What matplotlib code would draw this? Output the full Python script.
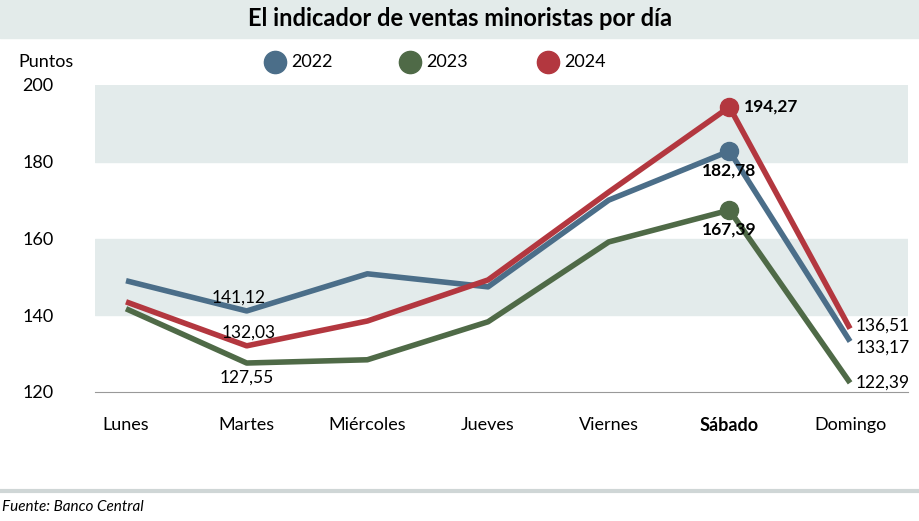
import matplotlib.pyplot as plt

dias = ["Lunes", "Martes", "Miércoles", "Jueves", "Viernes", "Sábado", "Domingo"]
v2022 = [149.0, 141.12, 150.8, 147.4, 170.0, 182.78, 133.17]
v2023 = [141.7, 127.55, 128.4, 138.3, 159.1, 167.39, 122.39]
v2024 = [143.5, 132.03, 138.5, 149.2, 172.1, 194.27, 136.51]
series = [("2022", v2022, "#4b6e89"), ("2023", v2023, "#4f6a47"), ("2024", v2024, "#b3373f")]

plt.rcParams['font.family'] = ['Lato', 'DejaVu Sans']
W, H = 919, 521
fig = plt.figure(figsize=(W / 100, H / 100), dpi=100)
ax = fig.add_axes([95 / W, 1 - 392 / H, (908 - 95) / W, (392 - 85) / H])

x = list(range(len(dias)))
ax.axhspan(140, 160, color="#e3ebeb", zorder=0)
ax.axhspan(180, 200, color="#e3ebeb", zorder=0)
for name, vals, c in series:
    ax.plot(x, vals, color=c, lw=4, zorder=3, solid_capstyle="butt")
    ax.plot(x[5], vals[5], "o", color=c, ms=13, zorder=4)

ax.set_xlim(-0.257, 6.48)
ax.set_ylim(120, 200)
ax.set_yticks([120, 140, 160, 180, 200])
ax.set_xticks(x)
ax.set_xticklabels(dias, fontsize=13)
ax.get_xticklabels()[5].set_fontweight("bold")
ax.tick_params(axis="y", labelsize=13, length=0, pad=30)
ax.tick_params(axis="x", length=0, pad=18)
for s in ["top", "right", "left"]:
    ax.spines[s].set_visible(False)
ax.spines["bottom"].set_color("#999999")

fs = 12.5
ax.text(0.93, v2022[1] + 1.5, "141,12", ha="center", va="bottom", fontsize=fs)
ax.text(1.02, v2024[1] + 1.3, "132,03", ha="center", va="bottom", fontsize=fs)
ax.text(1.0, v2023[1] - 1.8, "127,55", ha="center", va="top", fontsize=fs)
ax.text(5.12, v2024[5], "194,27", ha="left", va="center", fontsize=fs, fontweight="bold")
ax.text(5, v2022[5] - 3, "182,78", ha="center", va="top", fontsize=fs, fontweight="bold")
ax.text(5, v2023[5] - 3, "167,39", ha="center", va="top", fontsize=fs, fontweight="bold")
ax.text(6.05, v2024[6] + 0.8, "136,51", ha="left", va="center", fontsize=fs)
ax.text(6.05, v2022[6] - 1.5, "133,17", ha="left", va="center", fontsize=fs)
ax.text(6.05, v2023[6], "122,39", ha="left", va="center", fontsize=fs)

# title bar
fig.patches.append(plt.Rectangle((0, 1 - 38 / H), 1, 38 / H, transform=fig.transFigure,
                                 color="#e3ebea", zorder=0))
fig.text(0.5, 1 - 18 / H, "El indicador de ventas minoristas por día", ha="center", va="center",
         fontsize=17, fontweight="bold")
fig.text(18 / W, 1 - 62 / H, "Puntos", fontsize=13, va="center")
for (name, vals, c), lx in zip(series, [275, 410, 548]):
    fig.lines.append(plt.Line2D([lx / W], [1 - 62 / H], marker="o", ms=16, color=c,
                                transform=fig.transFigure))
    fig.text((lx + 16) / W, 1 - 62 / H, name, fontsize=13, va="center")

fig.lines.append(plt.Line2D([0, 1], [1 - 491 / H] * 2, color="#cfd6d6", lw=3,
                            transform=fig.transFigure))
fig.text(2 / W, 1 - 507 / H, "Fuente: Banco Central", fontsize=11, style="italic", va="center")

fig.savefig("out.png", dpi=100)
